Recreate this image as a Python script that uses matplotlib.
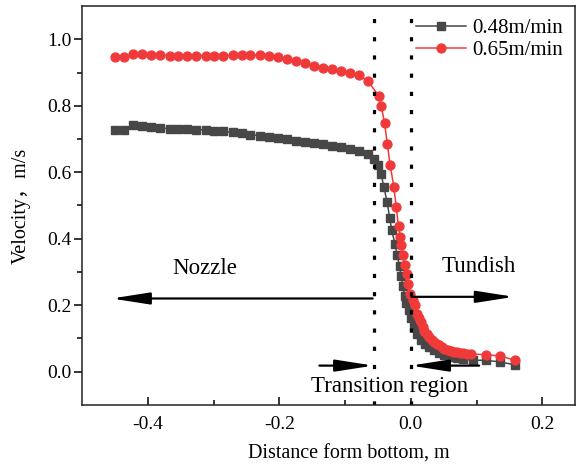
import matplotlib
matplotlib.use("Agg")
from matplotlib import pyplot as plt

# distance from bottom (m) and velocity (m/s)
x_slow = [-0.450, -0.436, -0.422, -0.409, -0.395, -0.381, -0.367, -0.354, -0.340, -0.326,
          -0.312, -0.299, -0.285, -0.271, -0.257, -0.244, -0.230, -0.216, -0.202, -0.189,
          -0.175, -0.161, -0.147, -0.134, -0.120, -0.106, -0.092, -0.079, -0.065,
          -0.056, -0.050, -0.045, -0.041, -0.036, -0.032, -0.029, -0.024, -0.0207, -0.017,
          -0.0146, -0.012, -0.0095, -0.007, -0.003, 0.001, 0.005, 0.010, 0.016, 0.022,
          0.028, 0.035, 0.043, 0.051, 0.060, 0.070, 0.080, 0.094, 0.114, 0.136, 0.159]
v_slow = [0.727, 0.727, 0.742, 0.740, 0.735, 0.733, 0.731, 0.730, 0.729, 0.728,
          0.727, 0.725, 0.723, 0.720, 0.717, 0.713, 0.710, 0.707, 0.704, 0.699,
          0.695, 0.691, 0.688, 0.684, 0.680, 0.676, 0.670, 0.665, 0.655,
          0.641, 0.621, 0.594, 0.556, 0.511, 0.462, 0.425, 0.385, 0.350, 0.317,
          0.287, 0.258, 0.228, 0.205, 0.185, 0.160, 0.135, 0.112, 0.095, 0.082,
          0.074, 0.064, 0.056, 0.049, 0.045, 0.041, 0.038, 0.034, 0.034, 0.029, 0.020]

x_fast = [-0.450, -0.436, -0.422, -0.409, -0.395, -0.381, -0.367, -0.354, -0.340, -0.326,
          -0.312, -0.299, -0.285, -0.271, -0.257, -0.244, -0.230, -0.216, -0.202, -0.189,
          -0.175, -0.161, -0.147, -0.134, -0.120, -0.106, -0.092, -0.079, -0.065,
          -0.0488, -0.0449, -0.0397, -0.0358, -0.0313, -0.0257, -0.0222, -0.0186, -0.016,
          -0.0146, -0.012, -0.0086, -0.0056, -0.0035, -0.0005, 0.003, 0.006, 0.0096, 0.012,
          0.0156, 0.018, 0.0207, 0.024, 0.028, 0.032, 0.036, 0.040, 0.043, 0.047, 0.051,
          0.056, 0.061, 0.066, 0.070, 0.075, 0.080, 0.085, 0.091, 0.114, 0.136, 0.159]
v_fast = [0.946, 0.946, 0.957, 0.957, 0.954, 0.952, 0.951, 0.951, 0.951, 0.951,
          0.951, 0.951, 0.951, 0.952, 0.953, 0.953, 0.952, 0.949, 0.946, 0.942,
          0.936, 0.929, 0.921, 0.915, 0.910, 0.905, 0.899, 0.892, 0.874,
          0.830, 0.798, 0.747, 0.686, 0.621, 0.556, 0.496, 0.437, 0.405,
          0.382, 0.352, 0.322, 0.293, 0.263, 0.233, 0.215, 0.200, 0.173, 0.160,
          0.148, 0.135, 0.123, 0.113, 0.104, 0.096, 0.089, 0.084, 0.079, 0.074, 0.069,
          0.065, 0.062, 0.060, 0.058, 0.057, 0.055, 0.054, 0.053, 0.051, 0.047, 0.034]

labels = ["0.48m/min", "0.65m/min"]
boundaries = [-0.056, 0.0]

plt.rcParams["font.family"] = ["Liberation Serif", "Noto Sans CJK SC"]

fig = plt.figure(figsize=(5.78, 4.68), dpi=100)
ax = fig.add_axes([0.142, 0.135, 0.853, 0.852])

ax.plot(x_slow, v_slow, "-s", color="#474747", ms=5.6, lw=1.1, label=labels[0])
ax.plot(x_fast, v_fast, "-o", color="#f03a3a", ms=6.4, lw=1.1, label=labels[1])

for b in boundaries:
    ax.axvline(b, color="black", lw=2.3, ls=(0, (1.3, 4.4)))

arrow = dict(arrowstyle="-|>,head_length=2.3,head_width=0.36", mutation_scale=10,
             lw=1.6, color="black", shrinkA=0, shrinkB=0)
ax.annotate("", xy=(-0.455, 0.22), xytext=(-0.058, 0.22), arrowprops=arrow)
ax.annotate("", xy=(0.157, 0.225), xytext=(0.001, 0.225), arrowprops=arrow)
ax.annotate("", xy=(-0.057, 0.018), xytext=(-0.139, 0.018), arrowprops=arrow)
ax.annotate("", xy=(0.0, 0.018), xytext=(0.104, 0.018), arrowprops=arrow)

ax.text(-0.314, 0.31, "Nozzle", fontsize=16.5, ha="center", va="center")
ax.text(0.104, 0.317, "Tundish", fontsize=16.5, ha="center", va="center")
ax.text(-0.032, -0.045, "Transition region", fontsize=16.5, ha="center", va="center",
        zorder=5, bbox=dict(facecolor="white", edgecolor="none", pad=0.5))

ax.set_xlim(-0.5, 0.25)
ax.set_ylim(-0.1, 1.1)
ax.set_xticks([-0.4, -0.2, 0.0, 0.2])
ax.set_xticks([-0.3, -0.1, 0.1], minor=True)
ax.set_yticks([0.0, 0.2, 0.4, 0.6, 0.8, 1.0])
ax.set_yticks([0.1, 0.3, 0.5, 0.7, 0.9], minor=True)
ax.xaxis.set_major_formatter(matplotlib.ticker.FormatStrFormatter("%.1f"))
ax.yaxis.set_major_formatter(matplotlib.ticker.FormatStrFormatter("%.1f"))
ax.tick_params(axis="x", which="both", direction="in", labelsize=14, pad=8)
ax.tick_params(axis="x", which="major", length=6, width=1.1)
ax.tick_params(axis="x", which="minor", length=3.5, width=1.1)
ax.tick_params(axis="y", which="both", direction="out", labelsize=14, pad=1.5)
ax.tick_params(axis="y", which="major", length=6, width=1.1)
ax.tick_params(axis="y", which="minor", length=3.5, width=1.1)
for s in ax.spines.values():
    s.set_linewidth(1.1)
    s.set_color("#222222")

ax.set_xlabel("Distance form bottom, m", fontsize=14.5)
ax.xaxis.set_label_coords(0.54, -0.10)
ax.set_ylabel("Velocity，m/s", fontsize=14.5)
ax.yaxis.set_label_coords(-0.105, 0.5)

ax.legend(loc="upper right", bbox_to_anchor=(1.0, 1.0), frameon=False, fontsize=15,
          handlelength=2.4, handletextpad=0.3, labelspacing=0.1, borderaxespad=0.2)

fig.savefig("out.png", dpi=100)
